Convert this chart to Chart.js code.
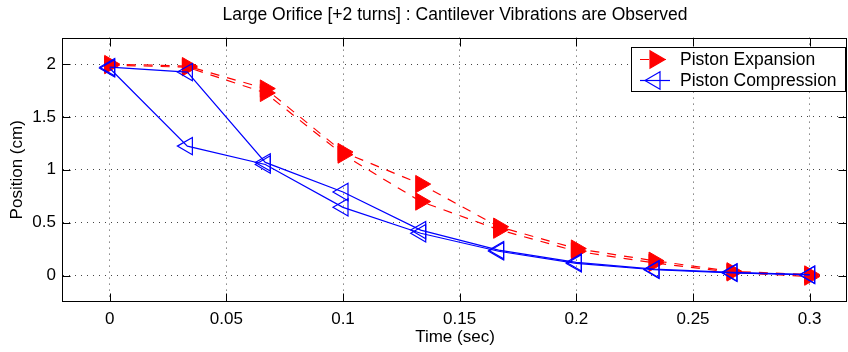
<!DOCTYPE html>
<html>
<head>
<meta charset="utf-8">
<title>Large Orifice [+2 turns]</title>
<script src="https://cdn.jsdelivr.net/npm/chart.js@4.4.1/dist/chart.umd.min.js"></script>
<style>
  html, body { margin: 0; padding: 0; background: #fff; }
  #wrap { width: 848px; height: 352px; }
</style>
</head>
<body>
<div id="wrap"><canvas id="plot" width="848" height="352"></canvas></div>
<script>
// sample times (sec), 30 frames per second
const times = [0, 0.0333, 0.0667, 0.1, 0.1333, 0.1667, 0.2, 0.2333, 0.2667, 0.3];

// piston position (cm), two runs of each stroke
const expansionRun1 = [2.00, 1.98, 1.768, 1.168, 0.865, 0.462, 0.255, 0.14, 0.04, 0.01];
const expansionRun2 = [1.99, 1.97, 1.727, 1.144, 0.70, 0.434, 0.23, 0.12, 0.03, -0.01];
const compressionRun1 = [1.97, 1.924, 1.07, 0.79, 0.43, 0.24, 0.125, 0.06, 0.03, 0.008];
const compressionRun2 = [1.96, 1.224, 1.05, 0.645, 0.40, 0.23, 0.115, 0.055, 0.026, 0.006];

const xTicks = [0, 0.05, 0.1, 0.15, 0.2, 0.25, 0.3];
const yTicks = [0, 0.5, 1, 1.5, 2];
const legendLabels = ['Piston Expansion', 'Piston Compression'];

const FONT = 'Liberation Sans, Arial, Helvetica, sans-serif';
const RED = '#ff0000';
const BLUE = '#0000ff';
const DASH = [9, 8];

const pts = ys => times.map((t, i) => ({ x: t, y: ys[i] }));

function expansionSet(ys) {
  return {
    data: pts(ys),
    borderColor: RED, borderWidth: 1.2, borderDash: DASH,
    pointStyle: 'triangle', pointRotation: 90, pointRadius: 10,
    pointBackgroundColor: RED, pointBorderColor: RED, pointBorderWidth: 1,
    tension: 0
  };
}
function compressionSet(ys) {
  return {
    data: pts(ys),
    borderColor: BLUE, borderWidth: 1.2,
    pointStyle: 'triangle', pointRotation: -90, pointRadius: 10,
    pointBackgroundColor: 'rgba(0,0,0,0)', pointBorderColor: BLUE, pointBorderWidth: 1.2,
    tension: 0
  };
}

// little triangle for the legend, same geometry as chart.js 'triangle'
function tri(ctx, x, y, r, rotDeg) {
  let a = rotDeg * Math.PI / 180;
  ctx.beginPath();
  for (let k = 0; k < 3; k++) {
    const px = x + Math.sin(a) * r, py = y - Math.cos(a) * r;
    k ? ctx.lineTo(px, py) : ctx.moveTo(px, py);
    a += 2 * Math.PI / 3;
  }
  ctx.closePath();
}

// matlab style box: frame, inward ticks and the legend
const matlabBox = {
  id: 'matlabBox',
  afterDraw(chart) {
    const { ctx, chartArea: a, scales } = chart;
    const L = Math.round(a.left) - 0.5, R = Math.round(a.right) - 0.5;
    const T = Math.round(a.top) + 0.5, B = Math.round(a.bottom) - 0.5;
    ctx.save();
    ctx.strokeStyle = '#000';
    ctx.lineWidth = 1;
    ctx.setLineDash([]);
    ctx.strokeRect(L, T, R - L, B - T);
    ctx.beginPath();
    xTicks.forEach(v => {
      const px = Math.round(scales.x.getPixelForValue(v)) + 0.5;
      ctx.moveTo(px, B); ctx.lineTo(px, B - 8);
      ctx.moveTo(px, T); ctx.lineTo(px, T + 8);
    });
    yTicks.forEach(v => {
      const py = Math.round(scales.y.getPixelForValue(v)) + 0.5;
      ctx.moveTo(L, py); ctx.lineTo(L + 8, py);
      ctx.moveTo(R, py); ctx.lineTo(R - 8, py);
    });
    ctx.stroke();

    // legend
    const lw = 214, lh = 44;
    const lx = Math.round(a.right) - 2 - lw, ly = Math.round(a.top) + 9;
    ctx.fillStyle = '#fff';
    ctx.fillRect(lx, ly, lw, lh);
    ctx.strokeRect(lx + 0.5, ly + 0.5, lw, lh);
    const colors = [RED, BLUE];
    legendLabels.forEach((label, i) => {
      const cy = ly + 12.5 + i * 21;
      ctx.strokeStyle = colors[i];
      ctx.lineWidth = 1.2;
      ctx.setLineDash(i === 0 ? DASH : []);
      ctx.beginPath();
      ctx.moveTo(lx + 9, cy); ctx.lineTo(lx + 39, cy);
      ctx.stroke();
      ctx.setLineDash([]);
      tri(ctx, lx + 24, cy, 10, i === 0 ? 90 : -90);
      if (i === 0) { ctx.fillStyle = RED; ctx.fill(); }
      ctx.stroke();
      ctx.fillStyle = '#000';
      ctx.font = '17.5px ' + FONT;
      ctx.textBaseline = 'middle';
      ctx.textAlign = 'left';
      ctx.fillText(label, lx + 49, cy + 1);
    });
    ctx.restore();
  }
};

const tickFont = { family: FONT, size: 17 };

new Chart(document.getElementById('plot').getContext('2d'), {
  type: 'line',
  data: {
    datasets: [
      compressionSet(compressionRun1),
      compressionSet(compressionRun2),
      expansionSet(expansionRun1),
      expansionSet(expansionRun2)
    ]
  },
  options: {
    responsive: false,
    animation: false,
    layout: { autoPadding: false, padding: { left: 0, right: 1, top: 0, bottom: 0 } },
    scales: {
      x: {
        type: 'linear', min: -0.02, max: 0.316,
        afterBuildTicks: s => { s.ticks = xTicks.map(v => ({ value: v })); },
        afterFit: s => { s.height = 50; s.paddingLeft = 0; s.paddingRight = 0; },
        grid: { color: '#444', lineWidth: 1, drawTicks: false },
        border: { display: false, dash: [1, 5] },
        ticks: { padding: 7, color: '#000', font: tickFont, maxRotation: 0, autoSkip: false,
                 callback: v => String(+v.toFixed(3)) },
        title: { display: true, text: 'Time (sec)', color: '#000', font: tickFont,
                 padding: { top: 0, bottom: 4 } }
      },
      y: {
        type: 'linear', min: -0.25, max: 2.25,
        afterBuildTicks: s => { s.ticks = yTicks.map(v => ({ value: v })); },
        afterFit: s => { s.width = 63; s.paddingTop = 0; s.paddingBottom = 0; },
        grid: { color: '#444', lineWidth: 1, drawTicks: false },
        border: { display: false, dash: [1, 5] },
        ticks: { padding: 7, color: '#000', font: tickFont,
                 callback: v => String(+v.toFixed(3)) },
        title: { display: true, text: 'Position (cm)', color: '#000', font: tickFont,
                 padding: { top: 7, bottom: 7 } }
      }
    },
    plugins: {
      legend: { display: false },
      tooltip: { enabled: false },
      title: {
        display: true, fullSize: false,
        text: 'Large Orifice [+2 turns] : Cantilever Vibrations are Observed',
        color: '#000', font: { family: FONT, size: 17.5, weight: 'normal' },
        padding: { top: 5, bottom: 11.6 }
      }
    }
  },
  plugins: [matlabBox]
});
</script>
</body>
</html>
